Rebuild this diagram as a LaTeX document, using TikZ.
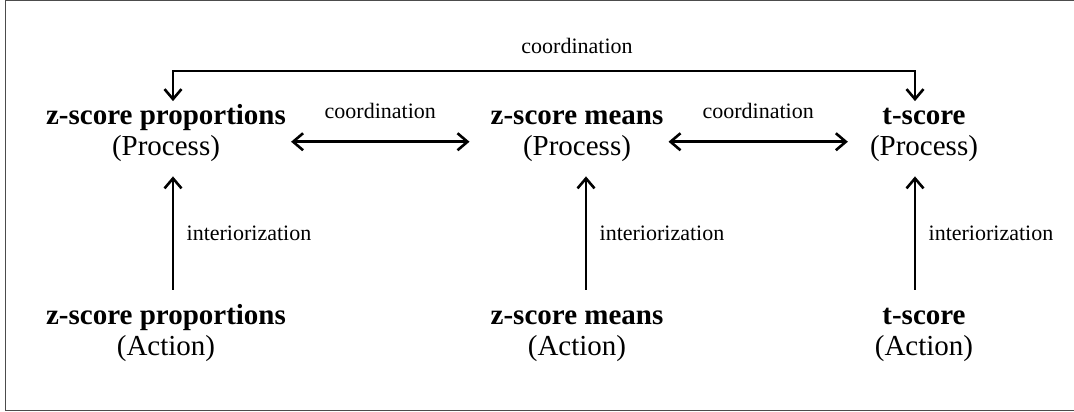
\documentclass[tikz,border=0pt]{standalone}
\usepackage{fontspec}
\setmainfont{Liberation Serif}
\usepackage{tikz}
\usetikzlibrary{arrows.meta,positioning,calc}

\begin{document}
\begin{tikzpicture}[x=1pt,y=1pt,
  stage/.style={align=center,inner sep=0pt,font=\fontsize{29}{31}\selectfont},
  lbl/.style={font=\fontsize{22}{24}\selectfont},
  link/.style={line width=2.6pt,>={Straight Barb[length=10pt,width=17pt]}}]
  \useasboundingbox (0,0) rectangle (1074,412);

  % Frame
  \draw[gray!60!black,line width=1pt] (1074,411) -- (5.5,411) -- (5.5,1.5) -- (1074,1.5);

  % Process level
  \node[stage] (pL) at (166,280.25) {\strut\textbf{z-score proportions}\\(Process)};
  \node[stage] (pM) at (577,280.25) {\strut\textbf{z-score means}\\(Process)};
  \node[stage] (pR) at (924,280.25) {\strut\textbf{t-score}\\(Process)};

  % Action level
  \node[stage] (aL) at (166,80.25) {\strut\textbf{z-score proportions}\\(Action)};
  \node[stage] (aM) at (577,80.25) {\strut\textbf{z-score means}\\(Action)};
  \node[stage] (aR) at (924,80.25) {\strut\textbf{t-score}\\(Action)};

  % Interiorization
  \draw[link,->] ([xshift=7pt,yshift=12.3pt]aL.north) -- node[lbl,right=9pt] (iL) {interiorization} ([xshift=7pt,yshift=-15pt]pL.south);
  \draw[link,->] ([xshift=9pt,yshift=12.3pt]aM.north) -- node[lbl,right=9pt] (iM) {interiorization} ([xshift=9pt,yshift=-15pt]pM.south);
  \draw[link,->] ([xshift=-9pt,yshift=12.3pt]aR.north) -- node[lbl,right=9pt] (iR) {interiorization} ([xshift=-9pt,yshift=-15pt]pR.south);

  % Coordination
  \draw[link,<->] ([xshift=5pt,yshift=-10pt]pL.east) -- node[lbl,above=18pt] (cL) {coordination} ([xshift=-21pt,yshift=-10pt]pM.west);
  \draw[link,<->] ([xshift=5pt,yshift=-10pt]pM.east) -- node[lbl,above=18pt] (cR) {coordination} ([xshift=-22pt,yshift=-10pt]pR.west);
  \draw[link,<->] ([xshift=7pt,yshift=1pt]pL.north) -- ++(0,30) -| ([xshift=-9pt,yshift=1pt]pR.north);
  \node[lbl] (cTop) at (577,366) {coordination};
\end{tikzpicture}
\end{document}
